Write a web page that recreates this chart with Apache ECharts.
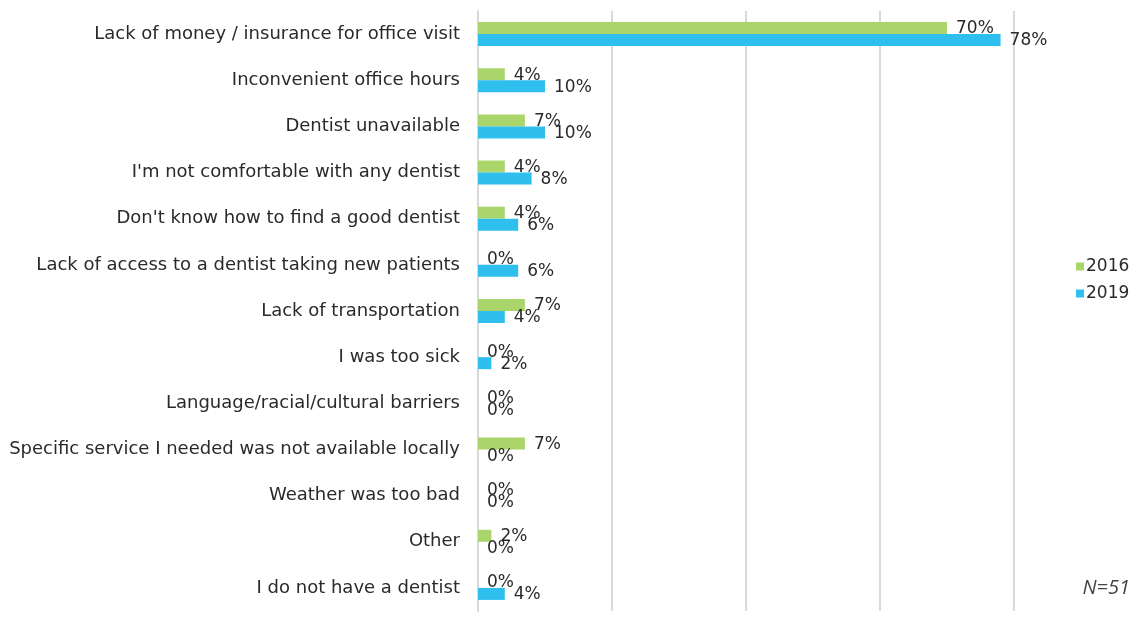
<!DOCTYPE html>
<html>
<head>
<meta charset="utf-8">
<script src="https://cdn.jsdelivr.net/npm/echarts@6/dist/echarts.min.js"></script>
<style>
html,body{margin:0;padding:0;background:#fff;}
#c{width:1140px;height:620px;}
</style>
</head>
<body>
<div id="c"></div>
<script>
var categories = [
  "Lack of money / insurance for office visit",
  "Inconvenient office hours",
  "Dentist unavailable",
  "I'm not comfortable with any dentist",
  "Don't know how to find a good dentist",
  "Lack of access to a dentist taking new patients",
  "Lack of transportation",
  "I was too sick",
  "Language/racial/cultural barriers",
  "Specific service I needed was not available locally",
  "Weather was too bad",
  "Other",
  "I do not have a dentist"
];
var values2016 = [70, 4, 7, 4, 4, 0, 7, 0, 0, 7, 0, 2, 0];
var values2019 = [78, 10, 10, 8, 6, 6, 4, 2, 0, 0, 0, 0, 4];
var seriesNames = ["2016", "2019"];
var note = "N=51";

var FONT = "'DejaVu Sans', Verdana, sans-serif";
var chart = echarts.init(document.getElementById('c'));
chart.setOption({
  animation: false,
  textStyle: {fontFamily: FONT},
  grid: {left: 478, right: 126, top: 11, bottom: 9, containLabel: false},
  xAxis: {
    type: 'value', min: 0, max: 80, interval: 20,
    axisLabel: {show: false},
    axisLine: {show: false},
    axisTick: {show: false},
    splitLine: {show: true, lineStyle: {color: '#d9d9d9', width: 2}}
  },
  yAxis: {
    type: 'category', data: categories, inverse: true,
    axisLine: {show: true, lineStyle: {color: '#d9d9d9', width: 2}},
    axisTick: {show: false},
    axisLabel: {color: '#2a2a2a', fontSize: 18, fontFamily: FONT, margin: 18}
  },
  legend: {
    orient: 'vertical', left: 1071, top: 253,
    icon: 'rect', itemWidth: 8, itemHeight: 8, itemGap: 10,
    textStyle: {color: '#2a2a2a', fontSize: 17, fontFamily: FONT, padding: [0,0,0,-3]},
    data: seriesNames
  },
  series: [
    {
      name: seriesNames[0], type: 'bar', data: values2016,
      barWidth: 12, barGap: '0%',
      itemStyle: {color: '#a9d56b'},
      label: {show: true, position: 'right', distance: 9, offset: [0, 1],
        formatter: '{c}%', color: '#2a2a2a', fontSize: 17, fontFamily: FONT}
    },
    {
      name: seriesNames[1], type: 'bar', data: values2019,
      barWidth: 12,
      itemStyle: {color: '#2ebfee'},
      label: {show: true, position: 'right', distance: 9, offset: [0, 1],
        formatter: '{c}%', color: '#2a2a2a', fontSize: 17, fontFamily: FONT}
    }
  ],
  graphic: [{
    type: 'text', right: 10, top: 578,
    style: {text: note, fill: '#444', fontSize: 20, fontStyle: 'italic', fontFamily: "'Open Sans', 'Liberation Sans', sans-serif"}
  }]
});
</script>
</body>
</html>
